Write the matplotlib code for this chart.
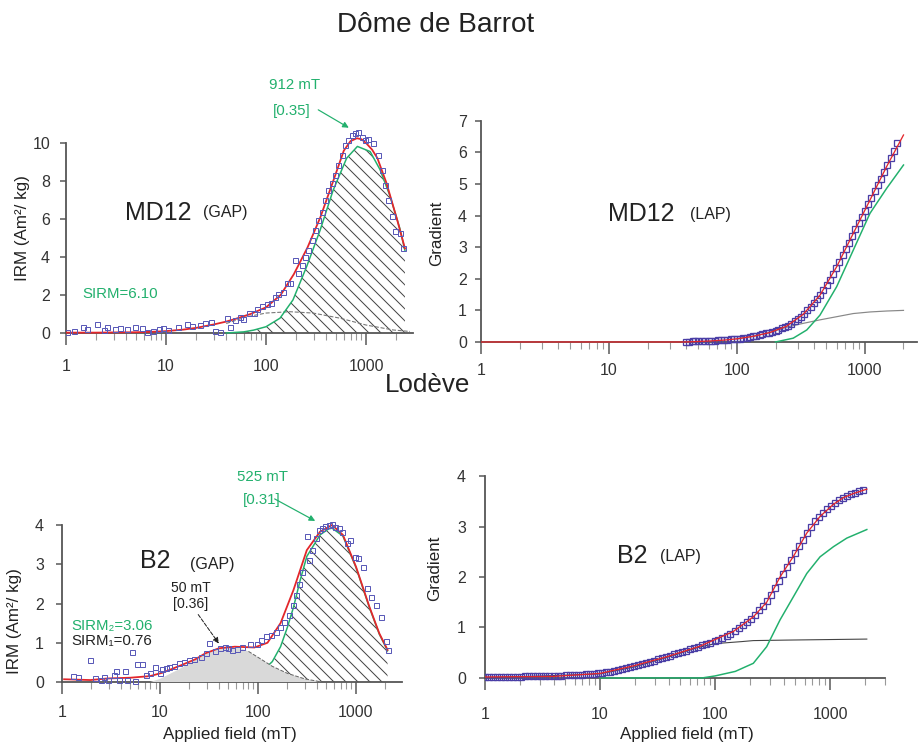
import numpy as np
import matplotlib
matplotlib.use('Agg')
import matplotlib.pyplot as plt
from matplotlib.ticker import LogLocator, NullFormatter

plt.rcParams['font.family'] = ['Liberation Sans', 'DejaVu Sans']
plt.rcParams['hatch.linewidth'] = 1.0

RED = '#e3262b'
GREEN = '#22b06d'
BLUE = '#5a5ab8'
DBLUE = '#4a3ea6'
AXC = '#555555'
TXT = '#222222'

# ---- Dome de Barrot, MD12, GAP (IRM gradient)
md12_sq_x = [1.02, 1.2, 1.47, 1.63, 2.03, 2.4, 2.59, 3.09, 3.47, 4.04, 4.9, 5.71, 6.41, 7.47,
             8.58, 9.4, 10.5, 13.3, 16.1, 18.1, 21.9, 24.5, 28, 30.9, 34.7, 40.4, 43.7, 49, 55,
             59, 68, 75, 81, 91, 102, 111, 123, 133, 147, 161, 174, 195, 211, 227, 245, 265,
             286, 309, 334, 360, 389, 420, 454, 490, 529, 571, 617, 666, 719, 776, 838, 906,
             977, 1055, 1184, 1329, 1435, 1549, 1671, 1805, 1950, 2188, 2362]
md12_sq_y = [0.04, 0.12, 0.33, 0.23, 0.47, 0.16, 0.33, 0.19, 0.26, 0.19, 0.33, 0.28, 0.07, 0.12,
             0.19, 0.25, 0.16, 0.33, 0.46, 0.37, 0.42, 0.51, 0.6, 0.12, 0.07, 0.77, 0.33, 0.68, 0.86,
             0.72, 1.04, 1.04, 1.25, 1.42, 1.53, 1.56, 1.91, 2.05, 2.18, 2.61, 2.65, 3.84, 3.14, 3.58,
             4.02, 4.37, 4.89, 5.42, 5.95, 6.39, 7.0, 7.53, 7.88, 8.32, 8.84, 9.37, 9.89, 10.16,
             10.42, 10.51, 10.6, 10.33, 10.16, 10.19, 10.02, 9.37, 8.58, 7.79, 7.0, 6.14, 5.35,
             5.26, 4.47]
md12_fit_x = [1, 2, 3, 5, 7, 10, 15, 20, 30, 40, 50, 70, 100, 140, 190, 260, 350, 470, 600,
              700, 810, 900, 1000, 1150, 1300, 1600, 2050, 2450]
md12_fit_y = [0.02, 0.02, 0.03, 0.04, 0.06, 0.1, 0.18, 0.27, 0.45, 0.6, 0.75, 1.0, 1.35, 2.0,
              3.1, 4.5, 6.1, 8.0, 9.6, 10.1, 10.25, 10.2, 10.0, 9.65, 9.2, 7.9, 5.95, 4.45]
md12_c2_x = [40, 60, 75, 100, 138, 186, 255, 347, 468, 640, 820, 1100, 1380, 1740, 2180, 2450]
md12_c2_y = [0.0, 0.06, 0.15, 0.33, 0.78, 1.74, 3.5, 5.4, 7.5, 9.2, 9.82, 9.55, 8.6, 7.2,
             5.5, 4.35]
md12_c1_x = [40, 64, 100, 174, 295, 550, 1000, 1870, 2750]
md12_c1_y = [0.5, 0.85, 1.05, 1.12, 1.05, 0.78, 0.42, 0.16, 0.08]

# ---- MD12, LAP (cumulative)
md12_lap_x = [40, 42, 45, 47, 50, 53, 56, 60, 63, 67, 71, 75, 79, 84, 89, 94, 100, 106, 112,
              119, 126, 133, 141, 150, 158, 168, 178, 188, 200, 211, 224, 237, 251, 266, 282,
              299, 316, 335, 355, 376, 398, 422, 447, 473, 501, 531, 562, 596, 631, 668, 708,
              750, 794, 841, 891, 944, 1000, 1059, 1122, 1189, 1259, 1334, 1413, 1496, 1585,
              1679, 1778]
md12_lap_y = [0.01, 0.01, 0.02, 0.02, 0.02, 0.02, 0.03, 0.03, 0.04, 0.04, 0.05, 0.05, 0.06,
              0.07, 0.08, 0.09, 0.1, 0.11, 0.12, 0.14, 0.16, 0.18, 0.2, 0.22, 0.24, 0.27, 0.29,
              0.32, 0.36, 0.39, 0.43, 0.47, 0.52, 0.58, 0.65, 0.72, 0.8, 0.9, 1.0, 1.1, 1.22,
              1.35, 1.49, 1.64, 1.8, 1.97, 2.15, 2.35, 2.54, 2.74, 2.93, 3.13, 3.35, 3.56, 3.76,
              3.96, 4.15, 4.36, 4.56, 4.77, 4.97, 5.17, 5.38, 5.6, 5.82, 6.05, 6.3]
md12_lfit_x = [1, 10, 40, 60, 80, 100, 134, 181, 244, 330, 445, 601, 811, 1094, 1476, 2000]
md12_lfit_y = [0, 0, 0.0, 0.03, 0.06, 0.1, 0.18, 0.3, 0.5, 0.88, 1.48, 2.38, 3.44, 4.49, 5.55,
               6.55]
md12_lc2_x = [200, 275, 351, 445, 601, 811, 1094, 1476, 2000]
md12_lc2_y = [0.0, 0.12, 0.38, 0.85, 1.75, 2.91, 4.07, 4.86, 5.6]
md12_lc1_x = [100, 134, 181, 244, 330, 445, 601, 811, 1094, 1476, 2000]
md12_lc1_y = [0.1, 0.18, 0.3, 0.47, 0.59, 0.7, 0.8, 0.9, 0.95, 0.98, 1.0]

# ---- Lodeve, B2, GAP
b2_sq_x = [1.29, 1.47, 1.93, 2.16, 2.48, 2.67, 2.93, 3.37, 3.59, 3.79, 4.42, 4.59, 5.15, 5.56,
           5.87, 6.49, 7.28, 7.87, 8.83, 9.93, 10.5, 11.6, 12.5, 14.0, 15.8, 17.7, 19.9, 22.3,
           26, 29.2, 32, 36.8, 41.3, 45.7, 50, 54, 61, 68, 83, 97, 108, 122, 137, 153, 166,
           186, 209, 226, 244, 263, 284, 320, 331, 359, 387, 418, 452, 488, 527, 569, 615,
           664, 717, 805, 870, 977, 1055, 1184, 1282, 1439, 1615, 1813, 2036, 2130]
b2_sq_y = [0.15, 0.12, 0.56, 0.09, 0.05, 0.12, 0.05, 0.18, 0.29, 0.05, 0.28, 0.05, 0.76, 0.03,
           0.46, 0.46, 0.18, 0.22, 0.39, 0.24, 0.32, 0.35, 0.39, 0.41, 0.48, 0.52, 0.56, 0.59,
           0.65, 0.73, 1.0, 0.8, 0.86, 0.9, 0.86, 0.82, 0.83, 0.9, 0.97, 0.97, 1.07, 1.17,
           1.2, 1.28, 1.41, 1.54, 1.71, 1.96, 2.22, 2.51, 2.81, 3.72, 3.11, 3.36, 3.66, 3.87,
           3.92, 3.97, 4.0, 4.03, 3.96, 3.92, 3.83, 3.55, 3.62, 3.19, 3.17, 2.94, 2.39, 2.17,
           1.96, 1.66, 1.05, 0.82]
b2_fit_x = [1.05, 1.95, 2.9, 5, 7.9, 10.7, 15.8, 23, 29, 40, 58, 92, 125, 170, 230, 315, 430,
            570, 735, 1000, 1370, 1730, 2100]
b2_fit_y = [0.07, 0.05, 0.09, 0.11, 0.15, 0.24, 0.41, 0.58, 0.73, 0.86, 0.9, 0.88, 1.0, 1.5,
            2.34, 3.36, 3.83, 4.0, 3.75, 2.94, 1.92, 1.24, 0.82]
b2_c1_x = [8, 10, 15, 20, 30, 40, 50, 65, 80, 100, 140, 200, 300, 450]
b2_c1_y = [0.0, 0.08, 0.3, 0.48, 0.72, 0.84, 0.88, 0.87, 0.78, 0.63, 0.4, 0.22, 0.08, 0.0]
b2_c2_x = [60, 80, 100, 120, 140, 170, 200, 230, 270, 315, 430, 525, 570, 735, 1000, 1370,
           1730, 2100]
b2_c2_y = [0.02, 0.1, 0.22, 0.36, 0.52, 0.9, 1.4, 1.9, 2.6, 3.2, 3.75, 3.9, 3.92, 3.72, 2.92,
           1.9, 1.22, 0.8]

# ---- B2, LAP
b2_lap_x = [1, 1.08, 1.17, 1.27, 1.38, 1.5, 1.62, 1.76, 1.91, 2.07, 2.24, 2.43, 2.63, 2.85,
            3.09, 3.35, 3.63, 3.94, 4.27, 4.62, 5.01, 5.43, 5.89, 6.38, 6.92, 7.5, 8.13, 8.81,
            9.55, 10.4, 11.2, 12.2, 13.2, 14.3, 15.5, 16.8, 18.2, 19.7, 21.4, 23.2, 25.1, 27.2,
            29.5, 32, 34.7, 37.6, 40.7, 44.2, 47.9, 51.9, 56.2, 61, 66.1, 71.6, 77.6, 84.1,
            91.2, 98.9, 107, 116, 126, 136, 148, 160, 174, 188, 204, 221, 240, 260, 282, 305,
            331, 359, 389, 422, 457, 495, 537, 582, 631, 684, 741, 804, 871, 944, 1023, 1109,
            1202, 1303, 1413, 1531, 1660, 1799, 1950]
b2_lap_y = [0.02, 0.02, 0.02, 0.02, 0.02, 0.02, 0.02, 0.02, 0.02, 0.02, 0.03, 0.03, 0.03, 0.03,
            0.03, 0.03, 0.03, 0.04, 0.04, 0.04, 0.05, 0.05, 0.05, 0.06, 0.06, 0.07, 0.07, 0.08,
            0.09, 0.1, 0.11, 0.12, 0.14, 0.15, 0.17, 0.19, 0.21, 0.24, 0.26, 0.28, 0.3, 0.32,
            0.34, 0.37, 0.39, 0.42, 0.44, 0.47, 0.49, 0.52, 0.54, 0.57, 0.6, 0.62, 0.65, 0.67,
            0.7, 0.73, 0.76, 0.8, 0.84, 0.88, 0.93, 0.98, 1.04, 1.1, 1.17, 1.25, 1.34, 1.43,
            1.53, 1.65, 1.78, 1.92, 2.05, 2.19, 2.33, 2.47, 2.61, 2.74, 2.88, 3.0, 3.1, 3.19,
            3.27, 3.34, 3.41, 3.47, 3.52, 3.57, 3.61, 3.64, 3.67, 3.7, 3.73]
b2_lfit_x = [1, 3.9, 10, 19.5, 38, 74, 144, 215, 281, 367, 480, 627, 818, 1069, 1300, 1580, 2085]
b2_lfit_y = [0.02, 0.03, 0.09, 0.24, 0.42, 0.63, 0.92, 1.21, 1.5, 2.0, 2.41, 2.87, 3.2, 3.44,
             3.57, 3.65, 3.74]
b2_lc2_x = [10, 77, 100, 150, 215, 281, 367, 480, 627, 818, 1069, 1396, 2085]
b2_lc2_y = [0, 0, 0.04, 0.13, 0.29, 0.62, 1.15, 1.61, 2.07, 2.4, 2.6, 2.77, 2.94]
b2_lc1_x = [1, 10, 20, 40, 70, 100, 170, 215, 420, 2085]
b2_lc1_y = [0, 0.08, 0.22, 0.42, 0.6, 0.68, 0.72, 0.74, 0.75, 0.77]

W, H = 919, 744
fig = plt.figure(figsize=(W / 72, H / 72), dpi=72)


def px_axes(x0, x1, y_top, y_bot):
    return fig.add_axes([x0 / W, 1 - y_bot / H, (x1 - x0) / W, (y_bot - y_top) / H])


def style(ax, xmax, ylim, yticks, xpad, ypad):
    ax.set_xscale('log')
    ax.set_xlim(1, xmax)
    ax.set_ylim(*ylim)
    ax.patch.set_alpha(0)
    ax.spines['top'].set_visible(False)
    ax.spines['right'].set_visible(False)
    ax.spines['bottom'].set_position(('data', 0))
    ax.spines['left'].set_bounds(0, yticks[-1])
    for s in ('left', 'bottom'):
        ax.spines[s].set_color(AXC)
        ax.spines[s].set_linewidth(1.8)
    ax.set_xticks([1, 10, 100, 1000])
    ax.set_xticklabels(['1', '10', '100', '1000'])
    ax.xaxis.set_minor_locator(LogLocator(base=10, subs=np.arange(2, 10)))
    ax.xaxis.set_minor_formatter(NullFormatter())
    ax.set_yticks(yticks)
    ax.tick_params(axis='x', which='major', length=12, width=1.5, color=AXC, pad=xpad,
                   labelsize=16, labelcolor='#333')
    ax.tick_params(axis='x', which='minor', length=7, width=1.1, color='#999')
    ax.tick_params(axis='y', length=6, width=1.5, color=AXC, pad=ypad,
                   labelsize=16, labelcolor='#333')


# panels (pixel boxes)
ax1 = px_axes(66, 413, 127.8, 340.6)
ax2 = px_axes(481, 917, 119.2, 348.3)
ax3 = px_axes(62, 402, 521.1, 687.9)
ax4 = px_axes(485, 885, 473.5, 683)

style(ax1, 2950, (-0.4, 10.8), [0, 2, 4, 6, 8, 10], 14, 10)
style(ax2, 2550, (-0.2, 7.05), [0, 1, 2, 3, 4, 5, 6, 7], 9, 8)
style(ax3, 2950, (-0.15, 4.1), [0, 1, 2, 3, 4], 11, 12)
style(ax4, 3000, (-0.1, 4.05), [0, 1, 2, 3, 4], 17, 13)

HATCH = '\\\\'

# --- MD12 GAP
ax1.fill_between(md12_c2_x, md12_c2_y, 0, facecolor='none', edgecolor='#444',
                 hatch=HATCH, linewidth=0, zorder=1)
ax1.plot(md12_c1_x, md12_c1_y, '--', color='#777', lw=1.1, zorder=2)
ax1.plot(md12_c2_x, md12_c2_y, color=GREEN, lw=1.5, zorder=3)
ax1.plot(md12_fit_x, md12_fit_y, color=RED, lw=1.8, zorder=4)
ax1.plot(md12_sq_x, md12_sq_y, 's', ms=5, mfc='none', mec=BLUE, mew=1.0, zorder=5)
ax1.text(3.9, 6.3, 'MD12', fontsize=25, color=TXT, va='center')
ax1.text(23.4, 6.35, '(GAP)', fontsize=16, color=TXT, va='center')
ax1.text(1.45, 2.05, 'SIRM=6.10', fontsize=15, color=GREEN, va='center')
ax1.text(191, 13.05, '912 mT', fontsize=15, color=GREEN, ha='center', va='center')
ax1.text(182, 11.68, '[0.35]', fontsize=15, color=GREEN, ha='center', va='center')
ax1.annotate('', xy=(700, 10.75), xytext=(320, 11.8),
             arrowprops=dict(arrowstyle='-|>', color=GREEN, lw=1.2, mutation_scale=12),
             annotation_clip=False)

# --- MD12 LAP
ax2.plot(md12_lc1_x, md12_lc1_y, color='#888', lw=1.2, zorder=2)
ax2.plot(md12_lc2_x, md12_lc2_y, color=GREEN, lw=1.5, zorder=3)
ax2.plot(md12_lap_x, md12_lap_y, 's', ms=6, mfc='none', mec=DBLUE, mew=1.3, zorder=4)
ax2.plot(md12_lfit_x, md12_lfit_y, color=RED, lw=1.3, zorder=5)
ax2.text(9.8, 4.05, 'MD12', fontsize=25, color=TXT, va='center')
ax2.text(43, 4.05, '(LAP)', fontsize=16, color=TXT, va='center')

# --- B2 GAP
ax3.fill_between(b2_c2_x, b2_c2_y, 0, facecolor='none', edgecolor='#444',
                 hatch=HATCH, linewidth=0, zorder=1)
ax3.plot(b2_c2_x, b2_c2_y, color=GREEN, lw=1.5, zorder=2)
ax3.fill_between(b2_c1_x, b2_c1_y, 0, facecolor='#d9d9d9', edgecolor='none', zorder=3)
ax3.plot(b2_c1_x[8:], b2_c1_y[8:], '--', color='#666', lw=1.0, zorder=4)
ax3.plot(b2_fit_x, b2_fit_y, color=RED, lw=1.8, zorder=5)
ax3.plot(b2_sq_x, b2_sq_y, 's', ms=5, mfc='none', mec=BLUE, mew=1.0, zorder=6)
ax3.text(6.25, 3.08, 'B2', fontsize=25, color=TXT, va='center')
ax3.text(20.2, 3.0, '(GAP)', fontsize=16, color=TXT, va='center')
ax3.text(20.7, 2.4, '50 mT', fontsize=14, color=TXT, ha='center', va='center')
ax3.text(20.7, 1.98, '[0.36]', fontsize=14, color=TXT, ha='center', va='center')
ax3.annotate('', xy=(41, 0.94), xytext=(23.9, 1.76),
             arrowprops=dict(arrowstyle='-|>', color=TXT, lw=1.0, ls='--', mutation_scale=12))
ax3.text(110, 5.22, '525 mT', fontsize=15, color=GREEN, ha='center', va='center')
ax3.text(110, 4.64, '[0.31]', fontsize=15, color=GREEN, ha='center', va='center')
ax3.annotate('', xy=(400, 4.08), xytext=(142, 4.69),
             arrowprops=dict(arrowstyle='-|>', color=GREEN, lw=1.2, mutation_scale=12),
             annotation_clip=False)
ax3.text(1.26, 1.43, 'SIRM₂=3.06', fontsize=15, color=GREEN, va='center')
ax3.text(1.26, 1.04, 'SIRM₁=0.76', fontsize=15, color=TXT, va='center')

# --- B2 LAP
ax4.plot(b2_lc1_x, b2_lc1_y, color='#444', lw=1.1, zorder=2)
ax4.plot(b2_lc2_x, b2_lc2_y, color=GREEN, lw=1.5, zorder=3)
ax4.plot(b2_lap_x, b2_lap_y, 's', ms=6, mfc='none', mec=DBLUE, mew=1.3, zorder=4)
ax4.plot(b2_lfit_x, b2_lfit_y, color=RED, lw=1.3, zorder=5)
ax4.text(14, 2.42, 'B2', fontsize=25, color=TXT, va='center')
ax4.text(33, 2.4, '(LAP)', fontsize=16, color=TXT, va='center')

# titles and axis labels
fig.text(436 / W, 1 - 25 / H, 'Dôme de Barrot', fontsize=28, color=TXT, ha='center', va='center')
fig.text(428 / W, 1 - 385 / H, 'Lodève', fontsize=26, color=TXT, ha='center', va='center')
fig.text(23 / W, 1 - 228 / H, 'IRM (Am²/ kg)', fontsize=17, color=TXT, rotation=90,
         ha='center', va='center')
fig.text(15 / W, 1 - 621 / H, 'IRM (Am²/ kg)', fontsize=17, color=TXT, rotation=90,
         ha='center', va='center')
fig.text(437 / W, 1 - 233 / H, 'Gradient', fontsize=17, color=TXT, rotation=90,
         ha='center', va='center')
fig.text(435 / W, 1 - 568 / H, 'Gradient', fontsize=17, color=TXT, rotation=90,
         ha='center', va='center')
fig.text(230 / W, 1 - 735 / H, 'Applied field (mT)', fontsize=17, color=TXT,
         ha='center', va='center')
fig.text(687 / W, 1 - 735 / H, 'Applied field (mT)', fontsize=17, color=TXT,
         ha='center', va='center')

fig.savefig('out.png', dpi=72, facecolor='white')
